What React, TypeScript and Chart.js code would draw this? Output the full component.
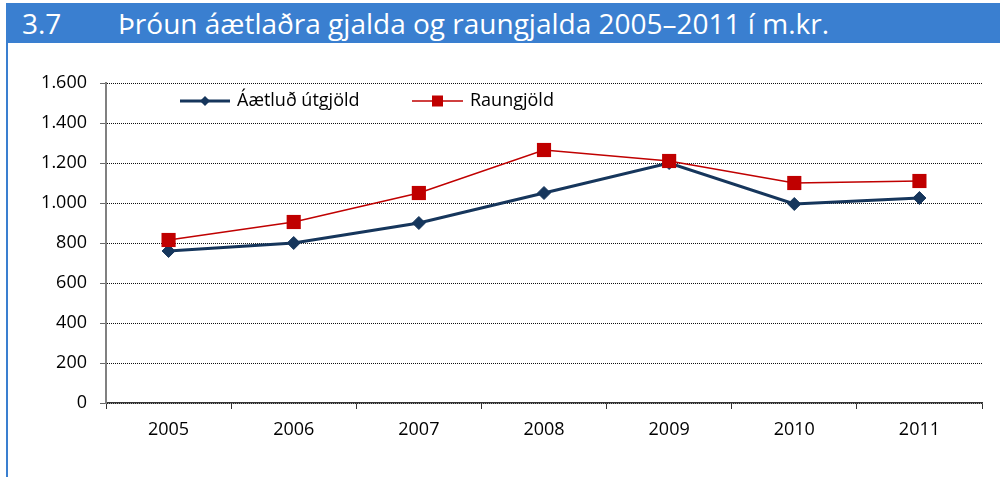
import React, { useEffect, useRef } from "react";
import { Chart, registerables } from "chart.js";

Chart.register(...registerables);

const categories = ["2005", "2006", "2007", "2008", "2009", "2010", "2011"];
const aaetlud = [760, 800, 900, 1050, 1200, 995, 1025];
const raungjold = [815, 905, 1050, 1265, 1210, 1100, 1110];
const seriesNames = ["Áætluð útgjöld", "Raungjöld"];
const titleNumber = "3.7";
const titleText = "Þróun áætlaðra gjalda og raungjalda 2005–2011 í m.kr.";

const NAVY = "#16365c";
const RED = "#c00000";
const FONT = "'Open Sans', sans-serif";

const legendPlugin = {
  id: "insideLegend",
  afterDraw(chart: any) {
    const ctx = chart.ctx;
    const y = 101;
    const items = [
      { x0: 180, x1: 230, tx: 237, color: NAVY, width: 3, style: "diamond", label: seriesNames[0] },
      { x0: 412, x1: 463, tx: 470, color: RED, width: 1.5, style: "square", label: seriesNames[1] },
    ];
    ctx.save();
    for (const it of items) {
      ctx.strokeStyle = it.color;
      ctx.lineWidth = it.width;
      ctx.beginPath();
      ctx.moveTo(it.x0, y);
      ctx.lineTo(it.x1, y);
      ctx.stroke();
      const cx = (it.x0 + it.x1) / 2;
      ctx.fillStyle = it.color;
      ctx.beginPath();
      if (it.style === "diamond") {
        const r = 5;
        ctx.moveTo(cx, y - r);
        ctx.lineTo(cx + r, y);
        ctx.lineTo(cx, y + r);
        ctx.lineTo(cx - r, y);
        ctx.closePath();
      } else {
        ctx.rect(cx - 5.5, y - 5.5, 11, 11);
      }
      ctx.fill();
      ctx.fillStyle = "#000";
      ctx.font = `18px ${FONT}`;
      ctx.textBaseline = "middle";
      ctx.textAlign = "left";
      ctx.fillText(it.label, it.tx, y);
    }
    ctx.restore();
  },
};

export default function App() {
  const ref = useRef<HTMLCanvasElement | null>(null);
  useEffect(() => {
    if (!ref.current) return;
    const chart = new Chart(ref.current, {
      type: "line",
      data: {
        labels: categories,
        datasets: [
          {
            label: seriesNames[0],
            data: aaetlud,
            borderColor: NAVY,
            backgroundColor: NAVY,
            borderWidth: 3,
            pointStyle: "rectRot",
            pointRadius: 6.5,
            pointBorderWidth: 1,
            tension: 0,
            order: 1,
          },
          {
            label: seriesNames[1],
            data: raungjold,
            borderColor: RED,
            backgroundColor: RED,
            borderWidth: 1.5,
            pointStyle: "rect",
            pointRadius: 10,
            pointBorderWidth: 0,
            tension: 0,
            order: 0,
          },
        ],
      },
      plugins: [legendPlugin],
      options: {
        animation: false,
        responsive: false,
        maintainAspectRatio: false,
        layout: { padding: { left: 0, top: 83, right: 18, bottom: 0 } },
        plugins: { legend: { display: false }, tooltip: { enabled: false }, title: { display: false } },
        scales: {
          x: {
            offset: true,
            afterFit: (s: any) => {
              s.height = 74;
            },
            grid: {
              offset: true,
              drawOnChartArea: false,
              drawTicks: true,
              tickLength: 6,
              tickColor: "#333",
              tickWidth: 1,
            },
            border: { display: true, color: "#333", width: 1.5 },
            ticks: { color: "#000", font: { family: FONT, size: 18 }, padding: 10 },
          },
          y: {
            min: 0,
            max: 1600,
            afterFit: (s: any) => {
              s.width = 106;
            },
            ticks: {
              stepSize: 200,
              color: "#000",
              font: { family: FONT, size: 18 },
              padding: 13,
              callback: (v: any) => Number(v).toLocaleString("de-DE"),
            },
            grid: {
              color: "#111",
              lineWidth: 1,
              drawTicks: true,
              tickLength: 6,
              tickColor: "#666",
              tickBorderDash: [],
            },
            border: { display: true, color: "#808080", width: 2, dash: [1, 1] },
          },
        },
      },
    });
    return () => chart.destroy();
  }, []);

  return (
    <div style={{ position: "fixed", left: 0, top: 0, width: 1000, height: 477, background: "#fff", overflow: "hidden" }}>
      <div
        style={{
          position: "absolute",
          left: 6,
          top: 3,
          width: 994,
          height: 40,
          background: "#3a7fd0",
          color: "#fff",
          fontFamily: FONT,
          fontSize: 28,
          lineHeight: "40px",
          whiteSpace: "nowrap",
        }}
      >
        <span style={{ position: "absolute", left: 16 }}>{titleNumber}</span>
        <span style={{ position: "absolute", left: 112 }}>{titleText}</span>
      </div>
      <div style={{ position: "absolute", left: 6, top: 43, width: 2, height: 434, background: "#3a7fd0" }} />
      <canvas ref={ref} width={1000} height={477} style={{ position: "absolute", left: 0, top: 0 }} />
    </div>
  );
}
